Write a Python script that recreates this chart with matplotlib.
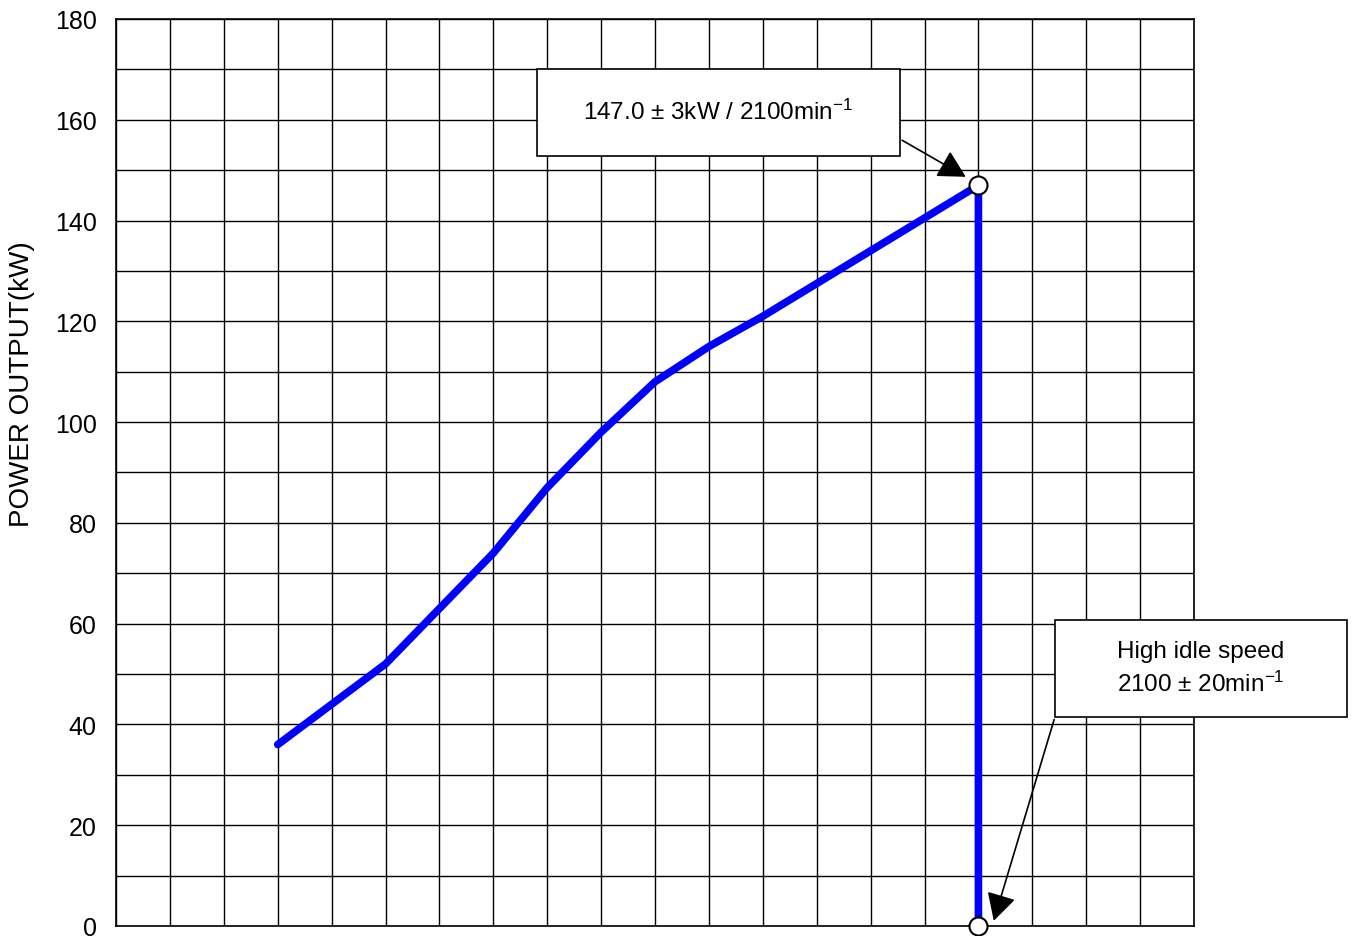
import matplotlib
matplotlib.use("Agg")
import matplotlib.pyplot as plt
from matplotlib.patches import Rectangle, FancyArrowPatch
from matplotlib.ticker import MultipleLocator, NullFormatter

plt.rcParams['font.family'] = ['Liberation Sans', 'DejaVu Sans']
plt.rcParams['mathtext.fontset'] = 'custom'
plt.rcParams['mathtext.rm'] = 'Liberation Sans'
plt.rcParams['mathtext.default'] = 'regular'

# engine speed (min-1) and power output (kW)
speed = [800, 1000, 1100, 1200, 1300, 1400, 1500, 1600, 1700, 1800, 1900, 2000, 2100, 2100]
power = [36, 52, 63, 74, 87, 98, 108, 115, 121, 127.5, 134, 140.5, 147, 0]
rated_speed = 2100
rated_power = 147
y_ticks = [0, 20, 40, 60, 80, 100, 120, 140, 160, 180]

rated_text = "147.0 ± 3kW / 2100min$^{-1}$"
idle_text = "High idle speed\n2100 ± 20min$^{-1}$"

fig = plt.figure(figsize=(13.59, 9.37), dpi=100)
ax = fig.add_axes([0.0854, 0.0107, 0.7932, 0.968])

ax.plot(speed, power, color='#0000FF', lw=5.5, solid_joinstyle='round',
        solid_capstyle='round', zorder=3)
ax.plot([rated_speed, rated_speed], [rated_power, 0], 'o', ms=13,
        mfc='white', mec='black', mew=1.5, zorder=4, clip_on=False)

ax.set_xlim(500, 2500)
ax.set_ylim(0, 180)
ax.xaxis.set_major_locator(MultipleLocator(100))
ax.xaxis.set_major_formatter(NullFormatter())
ax.set_yticks(y_ticks)
ax.yaxis.set_minor_locator(MultipleLocator(10))
ax.tick_params(axis='both', which='both', length=0)
ax.tick_params(axis='y', labelsize=18, pad=14)
ax.grid(True, which='both', color='black', lw=1.0)
for s in ax.spines.values():
    s.set_color('black')
    s.set_linewidth(1.2)

ax.set_ylabel("POWER OUTPUT(kW)", fontsize=20)
ax.yaxis.set_label_coords(-0.0872, 0.598)
ax.yaxis.label.set_verticalalignment('center')

# rated power box
ax.add_patch(Rectangle((1281, 152.8), 673.5, 17.3, fc='white', ec='black',
                       lw=1.2, zorder=5, clip_on=False))
ax.text(1617, 161.7, rated_text, fontsize=17.5, ha='center', va='center', zorder=6)
ax.add_patch(FancyArrowPatch((1954, 156.2), (2081, 148.4),
                             arrowstyle='-|>,head_length=1.3,head_width=0.7',
                             mutation_scale=13, color='black', lw=1.2, zorder=5))

# high idle box
ax.add_patch(Rectangle((2242, 41.5), 542, 19.2, fc='white', ec='black',
                       lw=1.2, zorder=5, clip_on=False))
ax.text(2513, 51.2, idle_text, fontsize=17.5, ha='center', va='center',
        linespacing=1.45, zorder=6, clip_on=False)
ax.add_patch(FancyArrowPatch((2242, 41.5), (2127, 0.5),
                             arrowstyle='-|>,head_length=1.3,head_width=0.7',
                             mutation_scale=13, color='black', lw=1.2, zorder=5,
                             clip_on=False))

fig.text(1306 / 1359, 1 - 933 / 937, "n", rotation=90, fontsize=20,
         ha='center', va='top')

fig.savefig("out.png", dpi=100)
